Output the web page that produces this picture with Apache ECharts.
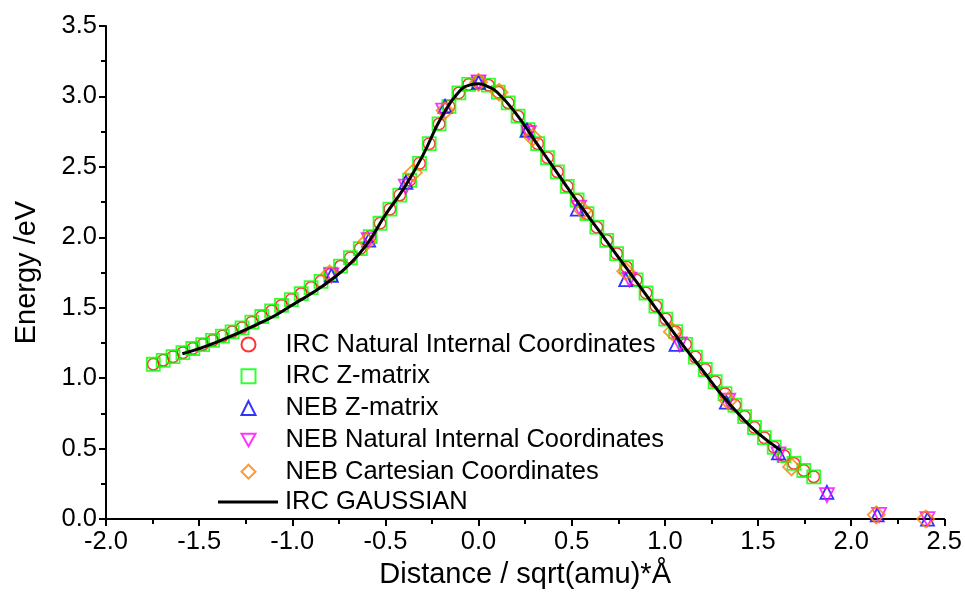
<!DOCTYPE html>
<html>
<head>
<meta charset="utf-8">
<script src="https://cdn.jsdelivr.net/npm/echarts@6/dist/echarts.min.js"></script>
<style>html,body{margin:0;padding:0;background:#fff;}#c{width:965px;height:594px;}</style>
</head>
<body>
<div id="c"></div>
<script>
// IRC points (Z-matrix and natural internal coordinates practically coincide)
const ircX = [-1.746,-1.693,-1.640,-1.587,-1.534,-1.481,-1.428,-1.375,-1.323,-1.270,-1.217,-1.164,-1.111,-1.058,-1.005,-0.952,-0.899,-0.846,-0.794,-0.741,-0.688,-0.635,-0.582,-0.529,-0.476,-0.423,-0.370,-0.317,-0.265,-0.212,-0.159,-0.106,-0.053,0.000,0.053,0.106,0.159,0.212,0.265,0.317,0.370,0.423,0.476,0.529,0.582,0.635,0.688,0.741,0.794,0.846,0.899,0.952,1.005,1.058,1.111,1.164,1.217,1.270,1.323,1.376,1.428,1.481,1.534,1.587,1.640,1.693,1.746,1.799];
const ircZmatY = [1.099,1.127,1.153,1.181,1.211,1.239,1.268,1.299,1.329,1.358,1.398,1.438,1.477,1.517,1.558,1.600,1.643,1.688,1.738,1.795,1.855,1.920,2.005,2.100,2.200,2.300,2.405,2.525,2.665,2.805,2.930,3.025,3.085,3.100,3.080,3.030,2.955,2.860,2.765,2.665,2.565,2.465,2.362,2.265,2.168,2.072,1.978,1.884,1.790,1.698,1.605,1.512,1.420,1.330,1.240,1.150,1.062,0.975,0.890,0.808,0.728,0.650,0.578,0.510,0.450,0.395,0.345,0.300];
const ircNatY = ircZmatY;

// NEB Z-matrix
const nebZmatX = [-0.79,-0.59,-0.39,-0.18,0.00,0.26,0.53,0.79,1.06,1.33,1.61,1.87,2.14,2.41];
const nebZmatY = [1.73,1.98,2.39,2.93,3.10,2.76,2.20,1.70,1.24,0.83,0.47,0.19,0.03,0.00];
// NEB Natural Internal Coordinates
const nebNatX = [-0.79,-0.59,-0.39,-0.19,0.00,0.27,0.54,0.81,1.08,1.34,1.61,1.87,2.15,2.41];
const nebNatY = [1.73,1.98,2.36,2.90,3.10,2.74,2.21,1.70,1.24,0.84,0.46,0.17,0.03,0.00];
// NEB Cartesian Coordinates
const nebCartX = [-0.80,-0.60,-0.35,-0.18,0.00,0.11,0.29,0.56,0.79,1.04,1.34,1.68,2.135,2.40];
const nebCartY = [1.74,1.97,2.46,2.90,3.10,3.03,2.71,2.19,1.76,1.33,0.84,0.37,0.03,0.00];
// IRC GAUSSIAN curve
const gaussX = [-1.59,-1.5,-1.4,-1.3,-1.2,-1.1,-1.0,-0.9,-0.8,-0.7,-0.6,-0.5,-0.4,-0.3,-0.2,-0.1,-0.05,0.0,0.05,0.1,0.2,0.3,0.4,0.5,0.6,0.7,0.8,0.9,1.0,1.1,1.2,1.3,1.4,1.5,1.62];
const gaussY = [1.174,1.21,1.26,1.315,1.375,1.44,1.52,1.60,1.69,1.80,1.95,2.16,2.35,2.58,2.85,3.04,3.08,3.09,3.07,3.03,2.88,2.69,2.50,2.31,2.13,1.95,1.77,1.59,1.41,1.23,1.06,0.89,0.74,0.61,0.49];

const seriesNames = ['IRC Natural Internal Coordinates','IRC Z-matrix','NEB Z-matrix','NEB Natural Internal Coordinates','NEB Cartesian Coordinates','IRC GAUSSIAN'];
const xTicks = {min:-2, max:2.5, interval:0.5};
const yTicks = {min:0, max:3.5, interval:0.5};

const FONT = 'Liberation Sans, Arial, sans-serif';
const zip = (xs, ys) => xs.map((x,i)=>[x, ys[i]]);
const hollow = (c, w) => ({color:'rgba(255,255,255,0)', borderColor:c, borderWidth:w});

const axisCommon = {
  axisLine:{show:true, onZero:false, lineStyle:{color:'#000', width:2}},
  axisTick:{show:true, inside:false, length:7, lineStyle:{color:'#000', width:2}},
  minorTick:{show:true, splitNumber:2, length:5, lineStyle:{color:'#000', width:2}},
  splitLine:{show:false},
  axisLabel:{color:'#000', fontFamily:FONT, fontSize:25.5, formatter:v=>v.toFixed(1)},
  nameTextStyle:{color:'#000', fontFamily:FONT, fontSize:29},
  nameLocation:'middle'
};

const chart = echarts.init(document.getElementById('c'), null, {renderer:'canvas'});
chart.setOption({
  animation:false,
  backgroundColor:'#fff',
  grid:{left:106, right:20, top:26, bottom:71},
  xAxis:Object.assign({}, axisCommon, {type:'value', min:xTicks.min, max:xTicks.max, interval:xTicks.interval,
    name:'Distance / sqrt(amu)*Å', nameGap:40,
    axisLabel:Object.assign({}, axisCommon.axisLabel, {margin:10})}),
  yAxis:Object.assign({}, axisCommon, {type:'value', min:yTicks.min, max:yTicks.max, interval:yTicks.interval,
    name:'Energy /eV', nameGap:65,
    axisLabel:Object.assign({}, axisCommon.axisLabel, {margin:9})}),
  legend:[
    {
      orient:'vertical', left:240.5, top:331.5, padding:0, itemWidth:14, itemHeight:14, itemGap:5.8,
      textStyle:{color:'#000', fontFamily:FONT, fontSize:25.5, padding:[0,0,0,25]},
      data:[
        {name:seriesNames[0]},
        {name:seriesNames[1]},
        {name:seriesNames[2]},
        {name:seriesNames[3], icon:'path://M0,0 L14,0 L7,12.5 Z'},
        {name:seriesNames[4]}
      ]
    },
    {
      orient:'vertical', left:218, top:489, padding:0, itemWidth:60, itemHeight:3,
      textStyle:{color:'#000', fontFamily:FONT, fontSize:25.5, padding:[0,0,0,2]},
      data:[{name:seriesNames[5], icon:'rect', itemStyle:{color:'#000'}}]
    }
  ],
  series:[
    {name:seriesNames[0], type:'scatter', symbol:'circle', symbolSize:11.5, data:zip(ircX, ircNatY), itemStyle:hollow('#ff0000',1.5), z:2},
    {name:seriesNames[1], type:'scatter', symbol:'rect', symbolSize:13, data:zip(ircX, ircZmatY), itemStyle:hollow('#00ff00',1.8), z:3},
    {name:seriesNames[2], type:'scatter', symbol:'triangle', symbolSize:13, data:zip(nebZmatX, nebZmatY), itemStyle:hollow('#0000ff',1.8), z:4},
    {name:seriesNames[3], type:'scatter', symbol:'triangle', symbolRotate:180, symbolSize:14, data:zip(nebNatX, nebNatY), itemStyle:hollow('#ff00ff',1.8), z:5},
    {name:seriesNames[4], type:'scatter', symbol:'diamond', symbolSize:17, data:zip(nebCartX, nebCartY), itemStyle:hollow('#ff8000',1.8), z:6},
    {name:seriesNames[5], type:'line', smooth:true, symbol:'none', showSymbol:false, data:zip(gaussX, gaussY), lineStyle:{color:'#000', width:3}, itemStyle:{color:'#000'}, z:7}
  ]
});
</script>
</body>
</html>
